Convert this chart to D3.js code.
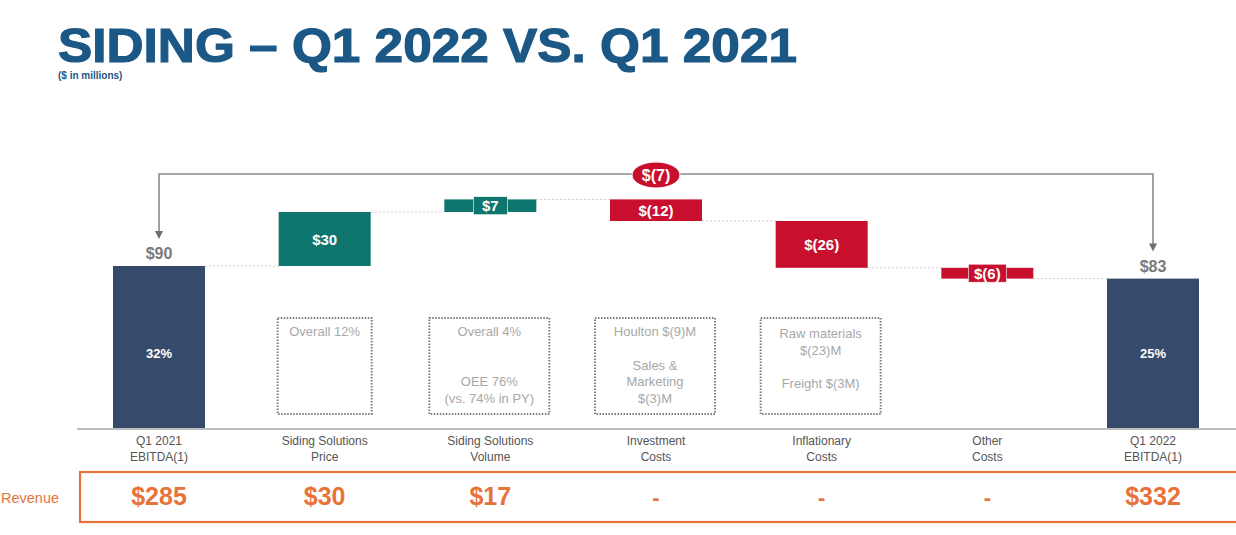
<!DOCTYPE html>
<html><head><meta charset="utf-8">
<script src="https://cdn.jsdelivr.net/npm/d3@7"></script>
<style>body{margin:0;background:#fff;} svg{display:block;font-family:"Liberation Sans",Arial,sans-serif;}</style>
</head><body>
<svg id="c" width="1236" height="535"></svg>
<script>
const categories = [["Q1 2021","EBITDA(1)"],["Siding Solutions","Price"],["Siding Solutions","Volume"],["Investment","Costs"],["Inflationary","Costs"],["Other","Costs"],["Q1 2022","EBITDA(1)"]];
const values = [90, 30, 7, -12, -26, -6, 83];
const kinds = ["total","delta","delta","delta","delta","delta","total"];
const barLabels = ["$90","$30","$7","$(12)","$(26)","$(6)","$83"];
const marginLabels = ["32%","","","","","","25%"];
const revenue = ["$285","$30","$17","-","-","-","$332"];
const notes = [[],["Overall 12%"],["Overall 4%","","","OEE 76%","(vs. 74% in PY)"],["Houlton $(9)M","","Sales &","Marketing","$(3)M"],["Raw materials","$(23)M","","Freight $(3M)"],[],[]];
const totalChange = "$(7)";

const svg = d3.select("#c");
const NAVY="#364a6b", TEAL="#0e766e", RED="#c8102e", ORANGE="#e8733a", TITLE="#1b5886";

// title
svg.append("text").attr("x",58).attr("y",62).attr("fill",TITLE).attr("font-size",48).attr("font-weight","bold")
  .attr("textLength",739).attr("lengthAdjust","spacingAndGlyphs")
  .attr("stroke",TITLE).attr("stroke-width",1.2).text("SIDING \u2013 Q1 2022 VS. Q1 2021");
svg.append("text").attr("x",58).attr("y",79).attr("fill",TITLE).attr("font-size",10).attr("font-weight","bold").text("($ in millions)");

const x = d3.scalePoint().domain(d3.range(categories.length)).range([159,1153]);
const y = d3.scaleLinear().domain([0,90]).range([428,266]);
const bw = 92;

// compute waterfall
let run = 0;
const bars = values.map((v,i)=>{
  let y0,y1;
  if(kinds[i]==="total"){ y0=0; y1=v; run=v; }
  else { y0=run; y1=run+v; run=y1; }
  return {i,v,y0,y1,kind:kinds[i]};
});
const minTotal = d3.min(bars.filter(b=>b.kind==="total"), b=>b.y1);

// axis line
svg.append("line").attr("x1",77).attr("x2",1236).attr("y1",y(0)+1).attr("y2",y(0)+1).attr("stroke","#bdbdbd").attr("stroke-width",2);

// connectors
bars.slice(0,-1).forEach(b=>{
  svg.append("line").attr("x1",x(b.i)+bw/2).attr("x2",x(b.i+1)-bw/2).attr("y1",y(b.y1)).attr("y2",y(b.y1))
    .attr("stroke","#cfcfcf").attr("stroke-width",1).attr("stroke-dasharray","2,2");
});

const color = b => b.kind==="total"?NAVY:(b.v>=0?TEAL:RED);
svg.selectAll("rect.bar").data(bars).join("rect").attr("class","bar")
  .attr("x",b=>x(b.i)-bw/2).attr("width",bw)
  .attr("y",b=>y(Math.max(b.y0,b.y1))).attr("height",b=>Math.abs(y(b.y0)-y(b.y1)))
  .attr("fill",color);

// labels
bars.forEach(b=>{
  const cx=x(b.i);
  if(b.kind==="total"){
    svg.append("text").attr("x",cx).attr("y",y(b.y1)-7).attr("text-anchor","middle").attr("fill","#7a7a7a")
      .attr("font-size",16).attr("font-weight","bold").text(barLabels[b.i]);
    svg.append("text").attr("x",cx).attr("y",y(minTotal/2)+5).attr("text-anchor","middle").attr("fill","#fff")
      .attr("font-size",13).attr("font-weight","bold").text(marginLabels[b.i]);
  } else {
    const top=y(Math.max(b.y0,b.y1)), bot=y(Math.min(b.y0,b.y1)), mid=(top+bot)/2;
    const h=bot-top;
    if(h<18){
      const lw = 30 + 2*barLabels[b.i].length;
      svg.append("rect").attr("x",cx-lw/2).attr("y",mid-9).attr("width",lw).attr("height",18).attr("fill",color(b))
        .attr("stroke","#fff").attr("stroke-width",0.6);
    }
    svg.append("text").attr("x",cx).attr("y",mid+5.5).attr("text-anchor","middle").attr("fill","#fff")
      .attr("font-size",15).attr("font-weight","bold").text(barLabels[b.i]);
  }
});

// bracket
const first=bars[0], last=bars[bars.length-1], by=174;
const bpath = `M${x(first.i)},${y(first.y1)-30} V${by} H${x(last.i)} V${y(last.y1)-30}`;
svg.append("path").attr("d",bpath).attr("fill","none").attr("stroke","#8a8a8a").attr("stroke-width",1.6);
[first,last].forEach(b=>{
  const tx=x(b.i), ty=y(b.y1)-27;
  svg.append("path").attr("d",`M${tx-4},${ty-8} L${tx+4},${ty-8} L${tx},${ty} Z`).attr("fill","#6e6e6e");
});
svg.append("ellipse").attr("cx",x(3)).attr("cy",by+1).attr("rx",24).attr("ry",13).attr("fill",RED).attr("stroke","#fff").attr("stroke-width",1);
svg.append("text").attr("x",x(3)).attr("y",by+7).attr("text-anchor","middle").attr("fill","#fff").attr("font-size",16).attr("font-weight","bold").text(totalChange);

// notes boxes
notes.forEach((lines,i)=>{
  if(!lines.length) return;
  const w = i===1?94:120, cx=x(i)-(i===1?0:1);
  svg.append("rect").attr("x",cx-w/2).attr("y",318).attr("width",w).attr("height",96).attr("fill","none")
    .attr("stroke","#7e7e7e").attr("stroke-width",2).attr("stroke-dasharray","1.5,1.5");
  const y0 = i===4?338:336;
  lines.forEach((t,k)=>{
    if(!t) return;
    svg.append("text").attr("x",cx).attr("y",y0+k*16.8).attr("text-anchor","middle").attr("fill","#a8a8a8")
      .attr("font-size",13).text(t);
  });
});

// category labels
categories.forEach((c,i)=>{
  c.forEach((t,k)=>{
    svg.append("text").attr("x",x(i)).attr("y",445+k*16).attr("text-anchor","middle").attr("fill","#555")
      .attr("font-size",12).text(t);
  });
});

// revenue
svg.append("rect").attr("x",80).attr("y",472).attr("width",1170).attr("height",50).attr("fill","none").attr("stroke",ORANGE).attr("stroke-width",2.2);
svg.append("text").attr("x",1).attr("y",503).attr("fill",ORANGE).attr("font-size",14.5).text("Revenue");
revenue.forEach((t,i)=>{
  svg.append("text").attr("x",x(i)).attr("y",505).attr("text-anchor","middle").attr("fill",ORANGE)
    .attr("font-size",t==="-"?22:25).attr("font-weight","bold").text(t);
});
</script>
</body></html>
